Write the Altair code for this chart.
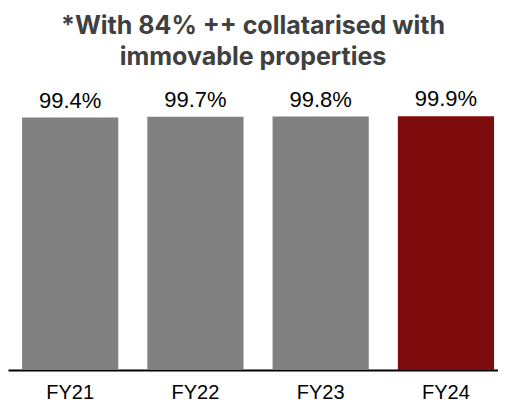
import altair as alt
import pandas as pd

categories = ["FY21", "FY22", "FY23", "FY24"]
values = [99.4, 99.7, 99.8, 99.9]
labels = ["99.4%", "99.7%", "99.8%", "99.9%"]
colors = ["#808080", "#808080", "#808080", "#7F0C0C"]

df = pd.DataFrame({"year": categories, "value": values, "label": labels, "color": colors})

base = alt.Chart(df).encode(
    x=alt.X("year:N", sort=categories, title=None,
            scale=alt.Scale(paddingInner=0.232, paddingOuter=0.072, align=0.78),
            axis=alt.Axis(labelAngle=0, labelFontSize=20, labelFont="Liberation Sans",
                          labelColor="#000000", labelPadding=12, ticks=False,
                          domainColor="#000000", domainWidth=2)),
    y=alt.Y("value:Q", scale=alt.Scale(domain=[0, 100]), axis=None),
)

bars = base.mark_bar().encode(color=alt.Color("color:N", scale=None))
text = base.mark_text(dy=-10, fontSize=22, font="Liberation Sans", color="#000000",
                      baseline="alphabetic").encode(text="label:N")

chart = (bars + text).properties(
    width=490, height=254,
    title=alt.TitleParams(
        text=["*With 84% ++ collatarised with", "immovable properties"],
        font="Inter", fontSize=25, fontWeight="bold", color="#404040",
        anchor="middle", offset=18, lineHeight=31,
    ),
    autosize=alt.AutoSizeParams(type="none"),
    padding={"left": 0, "top": 108, "right": 0, "bottom": 31},
).configure_view(stroke=None)

chart.save("out.html", embed_options={"renderer": "svg", "actions": False})
